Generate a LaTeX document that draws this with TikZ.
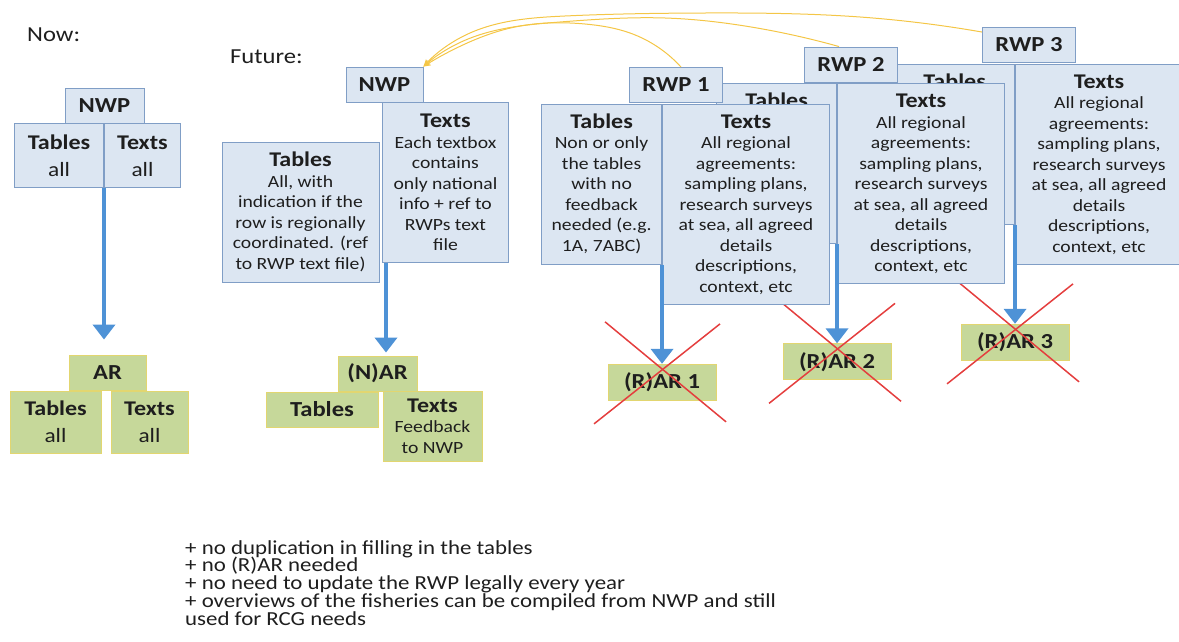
\documentclass[tikz,border=0pt]{standalone}
\usepackage{fontspec}
\setmainfont{Carlito}[FakeStretch=1.15]
\usetikzlibrary{arrows.meta,positioning,calc,hobby}
\definecolor{planfill}{RGB}{220,230,242}
\definecolor{planedge}{RGB}{128,158,198}
\definecolor{repfill}{RGB}{198,216,154}
\definecolor{repedge}{RGB}{226,214,112}
\definecolor{flowblue}{RGB}{78,146,214}
\definecolor{strikered}{RGB}{228,62,62}
\definecolor{linkgold}{RGB}{244,198,70}
\definecolor{ink}{RGB}{30,30,30}
\newcommand{\boxhead}[1]{{\fontsize{20.9}{22}\selectfont\bfseries #1}}
\newcommand{\tightlines}{\lineskiplimit=-100pt\relax}
\tikzset{
    plan/.style={draw=planedge, fill=planfill, line width=0.9pt, inner sep=0pt, align=center, text=ink, font=\fontsize{17.1}{20.5}\selectfont},
    report/.style={plan, draw=repedge, fill=repfill},
    boxtitle/.style={font=\fontsize{21.4}{24}\selectfont\bfseries},
    bigline/.style={font=\fontsize{20.3}{27}\selectfont},
    slidetext/.style={inner sep=0pt, text=ink, font=\fontsize{21.4}{24}\selectfont},
    flow/.style={draw=flowblue, line width=4pt, -{Triangle[length=15pt,width=22pt]}},
    strike/.style={draw=strikered, line width=1.5pt},
    link/.style={draw=linkgold, line width=1pt, -{Stealth[length=7pt,width=6pt]}}
}
\begin{document}
\begin{tikzpicture}[x=1pt,y=-1pt]
\useasboundingbox (0,0) rectangle (1179,642);
% now
\node[slidetext, anchor=base west] (now) at (27,42) {Now:};
\node[plan, boxtitle, minimum width=79pt, minimum height=35pt] (nwp) at (104.5,105.5) {NWP};
\node[plan, bigline, minimum width=89pt, minimum height=64pt, anchor=north east] (nwptab) at ([xshift=-0.5pt]nwp.south) {\boxhead{Tables}\\all};
\node[plan, bigline, minimum width=76pt, minimum height=64pt, right=0pt of nwptab] (nwptxt) {\boxhead{Texts}\\all};
\node[report, boxtitle, minimum width=77pt, minimum height=35pt] (ar) at (107.5,372.5) {AR};
\node[report, bigline, minimum width=91pt, minimum height=62pt] (artab) at (55.5,422) {\boxhead{Tables}\\all};
\node[report, bigline, minimum width=77pt, minimum height=62pt] (artxt) at (149.5,422) {\boxhead{Texts}\\all};
\draw[flow] (nwptab.south east) -- ([yshift=15pt]nwptab.south east |- ar.north);
% future, national
\node[slidetext, anchor=base west] (future) at (230,64) {Future:};
\node[plan, boxtitle, minimum width=77pt, minimum height=35pt] (nfut) at (384.5,84.5) {NWP};
\node[plan, minimum width=126pt, minimum height=160pt, anchor=north west] (nfutxt) at (382,102) {\boxhead{Texts}\\Each textbox\\contains\\only national\\info + ref to\\RWPs text\\file};
\node[plan, minimum width=157pt, minimum height=140pt] (nfutab) at (300.5,212) {\boxhead{Tables}\\All, with\\indication if the\\row is regionally\\coordinated. (ref\\to RWP text file)};
\node[report, boxtitle, minimum width=79pt, minimum height=35pt] (nar) at (377.5,373.5) {(N)AR};
\node[report, boxtitle, minimum width=112pt, minimum height=35pt] (nartab) at (322,409.5) {Tables};
\node[report, minimum width=99pt, minimum height=70pt] (nartxt) at (432.5,426) {\boxhead{Texts}\\Feedback\\to NWP};
\draw[flow] ([xshift=4pt]nfutxt.south west) -- ([xshift=4pt,yshift=3pt]nfutxt.south west |- nar.north);
% future, regional
\foreach \n/\x/\y in {3/1029/45, 2/851/64.5, 1/676/85}{
    \node[plan, boxtitle, minimum width=93pt, minimum height=35pt] (rwp\n) at (\x,\y) {RWP \n};
    \node[plan, minimum width=120pt, minimum height=160pt, anchor=north east] (rtab\n) at ($(rwp\n.south west)+(33,1)$) {};
    \node[plan, draw=none, fill=none, anchor=north, below=9pt of rtab\n.north] (rtabh\n) {\boxhead{Tables}};
    \node[plan, minimum width=167pt, minimum height=200pt, anchor=north west] (rtxt\n) at (rtab\n.north east) {\boxhead{Texts}\\All regional\\agreements:\\sampling plans,\\research surveys\\at sea, all agreed\\details\\descriptions,\\context, etc};
    \node[report, boxtitle, minimum width=108pt, minimum height=36pt, below=99pt of rtab\n.south east] (rar\n) {(R)AR \n};
    \draw[flow] (rtab\n.south east) -- (rar\n.north);
    \coordinate (xa\n) at ($(rar\n.north)+(-57,-42)$);
    \coordinate (xb\n) at ($(rar\n.north)+(64,58)$);
    \coordinate (xc\n) at ($(rar\n.north)+(58,-40)$);
    \coordinate (xd\n) at ($(rar\n.north)+(-68,60)$);
    \draw[strike] (xa\n) -- (xb\n);
    \draw[strike] (xc\n) -- (xd\n);
}
\node[plan, draw=none, fill=none, below=8pt of rtabh1] (rtabb1) {Non or only\\the tables\\with no\\feedback\\needed (e.g.\\1A, 7ABC)};
\draw[link] ([xshift=5pt]rwp1.north) to [curve through={(630,33)..(585,24)..(515,27)..(465,44)}] (nfut.north east);
\draw[link] ([xshift=-12pt]rwp2.north) to [curve through={(745,26)..(665,18)..(560,22)..(468,39)}] (nfut.north east);
\draw[link] ([yshift=-5pt]rwp3.north west) to [curve through={(860,17)..(706,13)..(565,16)..(470,33)}] (nfut.north east);
% gains
\node[slidetext, anchor=north west, align=left, font={\fontsize{19.9}{17.8}\selectfont\tightlines}] (gains) at (185,540) {+ no duplication in filling in the tables\\+ no (R)AR needed\\+ no need to update the RWP legally every year\\+ overviews of the fisheries can be compiled from NWP and still\\used for RCG needs};
\end{tikzpicture}
\end{document}
